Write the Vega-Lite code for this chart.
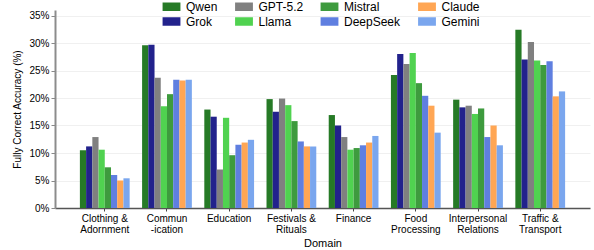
{
  "$schema": "https://vega.github.io/schema/vega-lite/v6.json",
  "width": 535,
  "height": 198,
  "autosize": {"type": "none"},
  "padding": {"left": 55, "top": 10, "right": 4, "bottom": 42},
  "background": "white",
  "config": {
    "font": "Liberation Sans",
    "view": {"stroke": null},
    "axis": {"labelFont": "Liberation Sans", "titleFont": "Liberation Sans", "labelColor": "#000", "titleColor": "#000", "titleFontWeight": "normal"},
    "legend": {"labelFont": "Liberation Sans"}
  },
  "data": {
    "values": [
      {"domain": "Clothing & Adornment", "model": "Qwen", "acc": 10.5},
      {"domain": "Clothing & Adornment", "model": "Grok", "acc": 11.2},
      {"domain": "Clothing & Adornment", "model": "GPT-5.2", "acc": 12.9},
      {"domain": "Clothing & Adornment", "model": "Llama", "acc": 10.6},
      {"domain": "Clothing & Adornment", "model": "Mistral", "acc": 7.4},
      {"domain": "Clothing & Adornment", "model": "DeepSeek", "acc": 6.0},
      {"domain": "Clothing & Adornment", "model": "Claude", "acc": 5.0},
      {"domain": "Clothing & Adornment", "model": "Gemini", "acc": 5.4},
      {"domain": "Communication", "model": "Qwen", "acc": 29.6},
      {"domain": "Communication", "model": "Grok", "acc": 29.7},
      {"domain": "Communication", "model": "GPT-5.2", "acc": 23.7},
      {"domain": "Communication", "model": "Llama", "acc": 18.5},
      {"domain": "Communication", "model": "Mistral", "acc": 20.7},
      {"domain": "Communication", "model": "DeepSeek", "acc": 23.3},
      {"domain": "Communication", "model": "Claude", "acc": 23.2},
      {"domain": "Communication", "model": "Gemini", "acc": 23.3},
      {"domain": "Education", "model": "Qwen", "acc": 17.9},
      {"domain": "Education", "model": "Grok", "acc": 16.6},
      {"domain": "Education", "model": "GPT-5.2", "acc": 7.0},
      {"domain": "Education", "model": "Llama", "acc": 16.4},
      {"domain": "Education", "model": "Mistral", "acc": 9.6},
      {"domain": "Education", "model": "DeepSeek", "acc": 11.5},
      {"domain": "Education", "model": "Claude", "acc": 11.9},
      {"domain": "Education", "model": "Gemini", "acc": 12.4},
      {"domain": "Festivals & Rituals", "model": "Qwen", "acc": 19.8},
      {"domain": "Festivals & Rituals", "model": "Grok", "acc": 17.5},
      {"domain": "Festivals & Rituals", "model": "GPT-5.2", "acc": 19.9},
      {"domain": "Festivals & Rituals", "model": "Llama", "acc": 18.7},
      {"domain": "Festivals & Rituals", "model": "Mistral", "acc": 15.8},
      {"domain": "Festivals & Rituals", "model": "DeepSeek", "acc": 12.1},
      {"domain": "Festivals & Rituals", "model": "Claude", "acc": 11.2},
      {"domain": "Festivals & Rituals", "model": "Gemini", "acc": 11.2},
      {"domain": "Finance", "model": "Qwen", "acc": 16.9},
      {"domain": "Finance", "model": "Grok", "acc": 15.0},
      {"domain": "Finance", "model": "GPT-5.2", "acc": 12.9},
      {"domain": "Finance", "model": "Llama", "acc": 10.6},
      {"domain": "Finance", "model": "Mistral", "acc": 10.9},
      {"domain": "Finance", "model": "DeepSeek", "acc": 11.4},
      {"domain": "Finance", "model": "Claude", "acc": 11.9},
      {"domain": "Finance", "model": "Gemini", "acc": 13.1},
      {"domain": "Food Processing", "model": "Qwen", "acc": 24.2},
      {"domain": "Food Processing", "model": "Grok", "acc": 28.0},
      {"domain": "Food Processing", "model": "GPT-5.2", "acc": 26.2},
      {"domain": "Food Processing", "model": "Llama", "acc": 28.2},
      {"domain": "Food Processing", "model": "Mistral", "acc": 22.7},
      {"domain": "Food Processing", "model": "DeepSeek", "acc": 20.4},
      {"domain": "Food Processing", "model": "Claude", "acc": 18.6},
      {"domain": "Food Processing", "model": "Gemini", "acc": 13.7},
      {"domain": "Interpersonal Relations", "model": "Qwen", "acc": 19.7},
      {"domain": "Interpersonal Relations", "model": "Grok", "acc": 18.3},
      {"domain": "Interpersonal Relations", "model": "GPT-5.2", "acc": 18.6},
      {"domain": "Interpersonal Relations", "model": "Llama", "acc": 17.1},
      {"domain": "Interpersonal Relations", "model": "Mistral", "acc": 18.1},
      {"domain": "Interpersonal Relations", "model": "DeepSeek", "acc": 12.9},
      {"domain": "Interpersonal Relations", "model": "Claude", "acc": 15.0},
      {"domain": "Interpersonal Relations", "model": "Gemini", "acc": 11.4},
      {"domain": "Traffic & Transport", "model": "Qwen", "acc": 32.4},
      {"domain": "Traffic & Transport", "model": "Grok", "acc": 27.0},
      {"domain": "Traffic & Transport", "model": "GPT-5.2", "acc": 30.2},
      {"domain": "Traffic & Transport", "model": "Llama", "acc": 26.8},
      {"domain": "Traffic & Transport", "model": "Mistral", "acc": 26.0},
      {"domain": "Traffic & Transport", "model": "DeepSeek", "acc": 26.7},
      {"domain": "Traffic & Transport", "model": "Claude", "acc": 20.3},
      {"domain": "Traffic & Transport", "model": "Gemini", "acc": 21.2}
    ]
  },
  "mark": {"type": "bar"},
  "encoding": {
    "x": {
      "field": "domain",
      "type": "nominal",
      "sort": null,
      "scale": {"paddingInner": 0.2, "paddingOuter": 0.4},
      "axis": {
        "title": "Domain",
        "titleFontSize": 11,
        "titlePadding": 3,
        "labelAngle": 0,
        "labelFontSize": 10,
        "labelLineHeight": 11,
        "labelPadding": 2,
        "tickSize": 3,
        "tickColor": "#444",
        "domainColor": "#555",
        "domainWidth": 1.5,
        "labelExpr": "datum.value=='Clothing & Adornment'?['Clothing &','Adornment']:datum.value=='Communication'?['Commun','-ication']:datum.value=='Festivals & Rituals'?['Festivals &','Rituals']:datum.value=='Food Processing'?['Food','Processing']:datum.value=='Interpersonal Relations'?['Interpersonal','Relations']:datum.value=='Traffic & Transport'?['Traffic &','Transport']:datum.label"
      }
    },
    "xOffset": {
      "field": "model",
      "type": "nominal",
      "sort": ["Qwen", "Grok", "GPT-5.2", "Llama", "Mistral", "DeepSeek", "Claude", "Gemini"],
      "scale": {"paddingInner": 0, "paddingOuter": 0}
    },
    "y": {
      "field": "acc",
      "type": "quantitative",
      "scale": {"domain": [0, 36], "nice": false},
      "axis": {
        "title": "Fully Correct Accuracy (%)",
        "titleFontSize": 10,
        "titlePadding": 6,
        "values": [0, 5, 10, 15, 20, 25, 30, 35],
        "labelExpr": "datum.value + '%'",
        "labelFontSize": 10,
        "labelPadding": 2,
        "tickSize": 4,
        "tickColor": "#888",
        "domainColor": "#8c8c8c",
        "domainWidth": 2,
        "gridColor": "#f0f0f0",
        "gridWidth": 1
      }
    },
    "color": {
      "field": "model",
      "type": "nominal",
      "scale": {
        "domain": ["Qwen", "Grok", "GPT-5.2", "Llama", "Mistral", "DeepSeek", "Claude", "Gemini"],
        "range": ["#267a26", "#22228c", "#808080", "#50d250", "#3e9b3e", "#5f7fe0", "#ffa654", "#7aa6ee"]
      },
      "legend": {
        "title": null,
        "orient": "none",
        "legendX": 108,
        "legendY": -12,
        "columns": 4,
        "columnPadding": 16.5,
        "rowPadding": 0,
        "padding": 0,
        "gridAlign": "each",
        "symbolType": "M-1.05,-0.5L1.05,-0.5L1.05,0.5L-1.05,0.5Z",
        "symbolSize": 289,
        "symbolStrokeWidth": 0,
        "symbolOpacity": 1,
        "labelFontSize": 12,
        "labelOffset": 6,
        "labelColor": "#000"
      }
    }
  }
}
